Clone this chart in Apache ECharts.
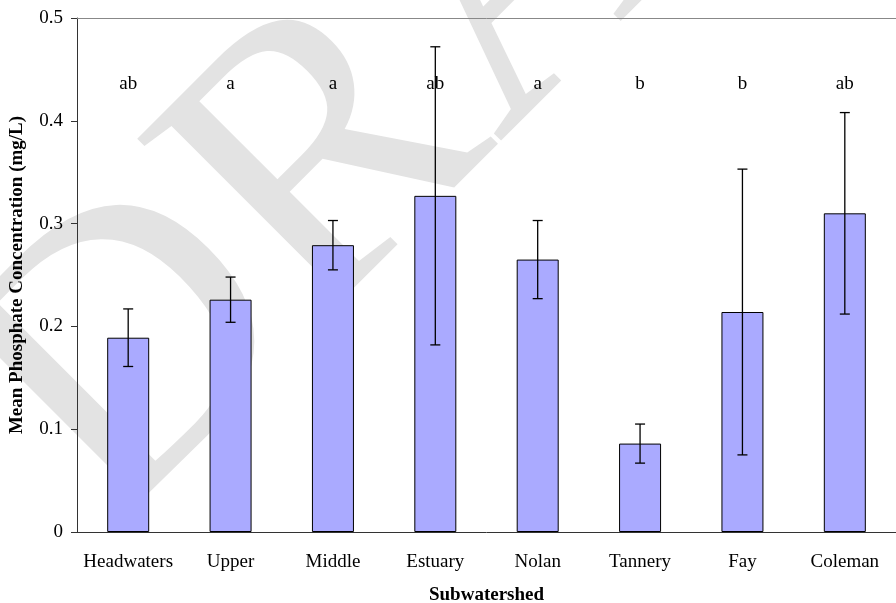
<!DOCTYPE html>
<html>
<head>
<meta charset="utf-8">
<script src="https://cdn.jsdelivr.net/npm/echarts@6/dist/echarts.min.js"></script>
<style>
  html, body { margin: 0; padding: 0; background: #fff; }
  #chart { width: 896px; height: 603px; }
</style>
</head>
<body>
<div id="chart"></div>
<script>
// subwatersheds on the x axis
var categories = ['Headwaters', 'Upper', 'Middle', 'Estuary', 'Nolan', 'Tannery', 'Fay', 'Coleman'];
// mean phosphate (mg/L)
var means = [0.189, 0.226, 0.279, 0.327, 0.265, 0.086, 0.214, 0.310];
// +/- error bar half widths
var errors = [0.028, 0.022, 0.024, 0.145, 0.038, 0.019, 0.139, 0.098];
// significance letters above the bars
var letters = ['ab', 'a', 'a', 'ab', 'a', 'b', 'b', 'ab'];
var yTicks = [0, 0.1, 0.2, 0.3, 0.4, 0.5];

var serif = '"Liberation Serif", "Times New Roman", serif';

var chart = echarts.init(document.getElementById('chart'));

function renderErr(params, api) {
  var i = api.value(0);
  var lo = api.coord([i, api.value(1)]);
  var hi = api.coord([i, api.value(2)]);
  var half = 5;
  var st = { stroke: '#000', lineWidth: 1.3 };
  return {
    type: 'group',
    children: [
      { type: 'line', shape: { x1: lo[0], y1: lo[1], x2: hi[0], y2: hi[1] }, style: st },
      { type: 'line', shape: { x1: hi[0] - half, y1: hi[1], x2: hi[0] + half, y2: hi[1] }, style: st },
      { type: 'line', shape: { x1: lo[0] - half, y1: lo[1], x2: lo[0] + half, y2: lo[1] }, style: st }
    ]
  };
}

function renderLetter(params, api) {
  var p = api.coord([api.value(0), 0.436]);
  return {
    type: 'text',
    x: p[0],
    y: p[1],
    style: {
      text: letters[params.dataIndex],
      font: '19px ' + serif,
      fill: '#000',
      align: 'center',
      verticalAlign: 'middle'
    }
  };
}

var option = {
  animation: false,
  backgroundColor: '#fff',
  grid: { left: 77, right: 0, top: 18, bottom: 71, outerBoundsMode: 'none' },
  graphic: [
    {
      // DRAFT watermark behind the plot
      type: 'text',
      x: 37,
      y: 458,
      rotation: Math.PI / 4,
      z: -10,
      silent: true,
      style: {
        text: 'DRAFT',
        font: '395px ' + serif,
        fill: '#e3e3e3',
        align: 'left',
        verticalAlign: 'middle'
      }
    }
  ],
  xAxis: [
    {
      type: 'category',
      data: categories,
      name: 'Subwatershed',
      nameLocation: 'middle',
      nameGap: 54,
      nameTextStyle: { fontFamily: serif, fontSize: 19, fontWeight: 'bold', color: '#000' },
      axisLine: { lineStyle: { color: '#333', width: 1 } },
      axisTick: { length: 6, lineStyle: { color: '#333' } },
      axisLabel: { fontFamily: serif, fontSize: 19, color: '#000', margin: 21, interval: 0 }
    },
    {
      type: 'category',
      data: categories,
      position: 'top',
      axisLine: { lineStyle: { color: '#888', width: 1 } },
      axisTick: { show: false },
      axisLabel: { show: false }
    }
  ],
  yAxis: {
    type: 'value',
    min: yTicks[0],
    max: yTicks[yTicks.length - 1],
    interval: 0.1,
    name: 'Mean Phosphate Concentration (mg/L)',
    nameLocation: 'middle',
    nameGap: 50,
    nameTextStyle: { fontFamily: serif, fontSize: 19, fontWeight: 'bold', color: '#000' },
    axisLine: { show: true, lineStyle: { color: '#333', width: 1 } },
    axisTick: { show: true, length: 6, lineStyle: { color: '#333' } },
    axisLabel: {
      fontFamily: serif, fontSize: 19, color: '#000', margin: 14,
      formatter: function (v) { return v === 0 ? '0' : v.toFixed(1); }
    },
    splitLine: { show: false }
  },
  series: [
    {
      type: 'bar',
      data: means,
      barWidth: 42,
      itemStyle: { color: '#aaaaff', borderColor: '#000', borderWidth: 1 },
      z: 2
    },
    {
      type: 'custom',
      renderItem: renderErr,
      data: means.map(function (m, i) { return [i, m - errors[i], m + errors[i]]; }),
      z: 5
    },
    {
      type: 'custom',
      renderItem: renderLetter,
      data: letters.map(function (l, i) { return [i]; }),
      z: 5
    }
  ]
};

chart.setOption(option);
</script>
</body>
</html>
